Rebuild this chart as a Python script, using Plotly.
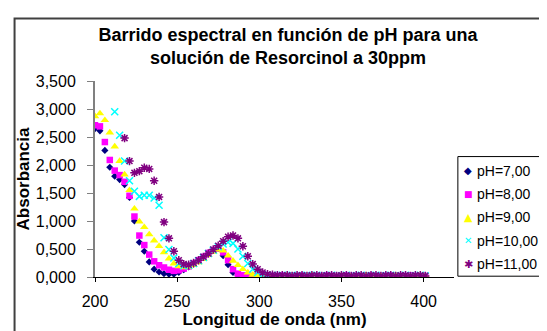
import plotly.graph_objects as go

# ---------------- data ----------------
wavelength = [200, 203, 206, 209, 212, 215, 218, 221, 224, 227,
              230, 233, 236, 239, 242, 245, 248, 251, 254, 257,
              260, 263, 266, 269, 272, 275, 278, 281, 284, 287,
              290, 293, 296, 299, 302, 305, 308, 311, 314, 317,
              320, 323, 326, 329, 332, 335, 338, 341, 344, 347,
              350, 353, 356, 359, 362, 365, 368, 371, 374, 377,
              380, 383, 386, 389, 392, 395, 398, 401]

ph7 = [2.65, 2.61, 2.26, 1.96, 1.80, 1.74, 1.65, 1.42, 1.00, 0.62,
       0.46, 0.27, 0.14, 0.09, 0.06, 0.05, 0.05, 0.08, 0.13, 0.18,
       0.23, 0.29, 0.35, 0.42, 0.48, 0.51, 0.38, 0.22, 0.08, 0.03,
       0.01, 0.01, 0.01, 0.01, 0.01, 0.01, 0.01, 0.02, 0.01, 0.01,
       0.02, 0.01, 0.01, 0.01, 0.02, 0.01, 0.01, 0.01, 0.02, 0.01,
       0.01, 0.02, 0.01, 0.01, 0.01, 0.02, 0.01, 0.01, 0.01, 0.02,
       0.01, 0.01, 0.02, 0.01, 0.01, 0.01, 0.02, 0.01]

ph8 = [2.71, 2.69, 2.41, 2.09, 1.90, 1.82, 1.70, 1.45, 1.08, 0.74,
       0.57, 0.40, 0.28, 0.21, 0.17, 0.13, 0.11, 0.12, 0.15, 0.19,
       0.24, 0.30, 0.36, 0.43, 0.48, 0.51, 0.44, 0.30, 0.14, 0.06,
       0.03, 0.02, 0.02, 0.02, 0.02, 0.02, 0.02, 0.02, 0.03, 0.02,
       0.02, 0.02, 0.03, 0.02, 0.02, 0.02, 0.02, 0.03, 0.02, 0.02,
       0.02, 0.03, 0.02, 0.02, 0.02, 0.02, 0.03, 0.02, 0.02, 0.02,
       0.03, 0.02, 0.02, 0.02, 0.03, 0.02, 0.02, 0.02]

ph9 = [2.87, 2.92, 2.80, 2.58, 2.33, 2.07, 1.83, 1.55, 1.22, 0.99,
       0.89, 0.76, 0.65, 0.55, 0.44, 0.33, 0.24, 0.19, 0.17, 0.18,
       0.21, 0.26, 0.32, 0.39, 0.45, 0.49, 0.47, 0.38, 0.29, 0.21,
       0.14, 0.08, 0.04, 0.02, 0.02, 0.02, 0.02, 0.02, 0.02, 0.03,
       0.02, 0.02, 0.02, 0.02, 0.03, 0.02, 0.02, 0.02, 0.02, 0.02,
       0.03, 0.02, 0.02, 0.02, 0.02, 0.03, 0.02, 0.02, 0.02, 0.02,
       0.02, 0.03, 0.02, 0.02, 0.02, 0.02, 0.03, 0.02]

ph10 = [None, None, None, None, 2.95, 2.53, 2.07, 1.72, 1.53, 1.44,
        1.46, 1.46, 1.41, 1.28, 0.70, 0.49, 0.34, 0.24, 0.20, 0.21,
        0.24, 0.29, 0.35, 0.42, 0.48, 0.54, 0.59, 0.62, 0.60, 0.50,
        0.37, 0.24, 0.14, 0.08, 0.04, 0.03, 0.03, 0.02, 0.03, 0.02,
        0.03, 0.02, 0.02, 0.03, 0.02, 0.03, 0.02, 0.02, 0.03, 0.02,
        0.02, 0.03, 0.02, 0.02, 0.03, 0.02, 0.02, 0.03, 0.02, 0.02,
        0.03, 0.02, 0.02, 0.03, 0.02, 0.02, 0.03, 0.02]

ph11 = [None, None, None, None, None, None, 2.48, 2.07, 1.86, 1.89,
        1.95, 1.93, 1.72, 1.43, 0.98, 0.69, 0.46, 0.30, 0.23, 0.22,
        0.25, 0.30, 0.36, 0.42, 0.49, 0.56, 0.64, 0.72, 0.74, 0.69,
        0.55, 0.37, 0.23, 0.14, 0.08, 0.05, 0.04, 0.03, 0.03, 0.03,
        0.02, 0.03, 0.03, 0.02, 0.03, 0.03, 0.02, 0.03, 0.03, 0.02,
        0.03, 0.03, 0.02, 0.03, 0.03, 0.02, 0.03, 0.03, 0.02, 0.03,
        0.03, 0.02, 0.03, 0.03, 0.02, 0.03, 0.03, 0.02]

series_names = ["pH=7,00", "pH=8,00", "pH=9,00", "pH=10,00", "pH=11,00"]
series_values = [ph7, ph8, ph9, ph10, ph11]
colors = ["#000080", "#FF00FF", "#FFFF00", "#00FFFF", "#800080"]
symbols = ["diamond", "square", "triangle-up", "x-thin-open", "asterisk-open"]
sizes = [5.5, 6.5, 7.5, 7, 7]
legend_glyphs = ["◆", "■", "▲", "✕", "✱"]
legend_glyph_sizes = [10, 9, 11, 10, 11]

title_text = "Barrido espectral en función de pH para una<br>solución de Resorcinol a 30ppm"
x_title = "Longitud de onda (nm)"
y_title = "Absorbancia"

# ---------------- layout geometry ----------------
W, H = 547, 331
X_MIN, X_MAX = 200, 418.5
ml, mt, mb = 87.3, 72.7, 61.7
px_per_nm = 1.64
mr = W - (ml + (X_MAX - X_MIN) * px_per_nm)
pw, ph = W - ml - mr, H - mt - mb

def px2x(px):
    return (px - ml) / pw

def py2y(py):
    return 1 - (py - mt) / ph

FONT = "Liberation Sans, Arial, sans-serif"
GLYPH_FONT = "DejaVu Sans, Liberation Sans, sans-serif"

fig = go.Figure()
for name, vals, c, s, sz in zip(series_names, series_values, colors, symbols, sizes):
    open_sym = s.endswith("open")
    fig.add_trace(go.Scatter(
        x=wavelength, y=vals, name=name, mode="markers", showlegend=False,
        marker=dict(symbol=s, size=sz, color=c,
                    line=dict(color=c, width=1.5 if open_sym else 0)),
    ))

# legend box (drawn by hand so that its compact Excel layout can be matched)
leg_l, leg_r, leg_t, leg_b = 449.5, 532.5, 148.5, 268.5
shapes = [
    dict(type="rect", xref="paper", yref="paper", layer="below",
         x0=px2x(7), x1=px2x(570), y0=py2y(10), y1=py2y(360),
         line=dict(color="#404040", width=2), fillcolor="rgba(0,0,0,0)"),
    dict(type="rect", xref="paper", yref="paper", layer="above",
         x0=px2x(leg_l), x1=px2x(leg_r), y0=py2y(leg_t), y1=py2y(leg_b),
         line=dict(color="black", width=1), fillcolor="white"),
]
annotations = []
for i, (name, c, g, gs) in enumerate(zip(series_names, colors, legend_glyphs, legend_glyph_sizes)):
    yc = 162.7 + i * 23.4
    annotations.append(dict(text=g, xref="paper", yref="paper", x=px2x(460), y=py2y(yc),
                            xanchor="center", yanchor="middle", showarrow=False,
                            font=dict(family=GLYPH_FONT, size=gs, color=c)))
    annotations.append(dict(text=name, xref="paper", yref="paper", x=px2x(466.5), y=py2y(yc),
                            xanchor="left", yanchor="middle", showarrow=False,
                            font=dict(family=FONT, size=14, color="black")))

fig.update_layout(
    width=W, height=H,
    margin=dict(l=ml, r=mr, t=mt, b=mb, autoexpand=False),
    paper_bgcolor="white", plot_bgcolor="white",
    separators=",.",
    showlegend=False,
    font=dict(family=FONT, color="black", size=16),
    title=dict(text=title_text, x=px2x(280), xref="paper", xanchor="center",
               y=1 - 33 / H, yref="container", yanchor="top",
               font=dict(family=FONT, size=18, weight="bold", color="black")),
    xaxis=dict(range=[X_MIN, X_MAX], dtick=50, tick0=200, showgrid=False, zeroline=False,
               showline=True, linecolor="black", linewidth=1,
               ticks="outside", ticklen=4, tickcolor="black",
               tickfont=dict(size=16), ticklabelstandoff=6,
               title=dict(text=x_title, standoff=2,
                          font=dict(size=17, weight="bold"))),
    yaxis=dict(range=[0, 3.5], dtick=0.5, tickformat=".3f", showgrid=False, zeroline=False,
               showline=True, linecolor="#808080", linewidth=2,
               ticks="outside", ticklen=6, tickcolor="#808080", tickwidth=1,
               tickfont=dict(size=16), ticklabelstandoff=8,
               title=dict(text=y_title, standoff=2,
                          font=dict(size=17, weight="bold"))),
    shapes=shapes,
    annotations=annotations,
)

fig.write_html("out.html")
